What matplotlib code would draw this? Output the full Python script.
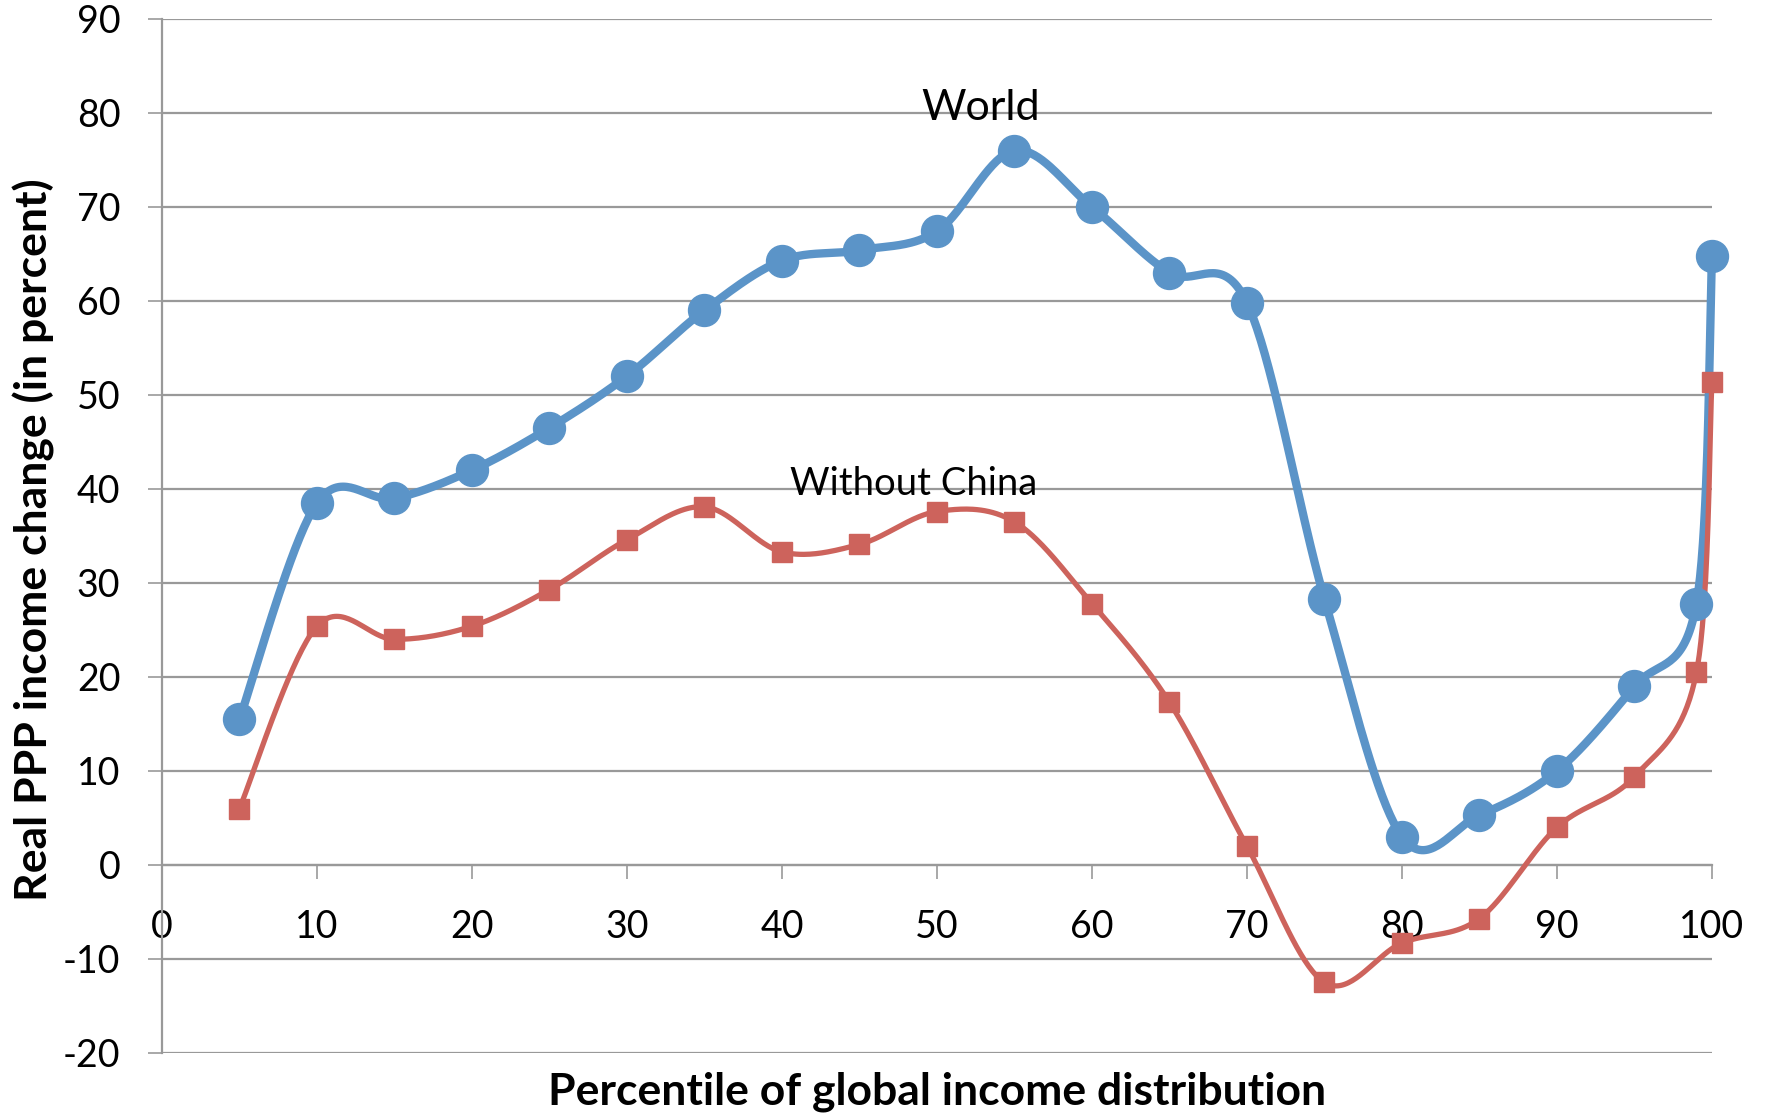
import matplotlib
matplotlib.use("Agg")
import matplotlib.pyplot as plt
from matplotlib.ticker import FuncFormatter
import numpy as np

plt.rcParams["font.family"] = ["Lato", "DejaVu Sans"]

percentiles = [5, 10, 15, 20, 25, 30, 35, 40, 45, 50, 55, 60, 65, 70, 75, 80, 85, 90, 95, 99, 100]
world = [15.5, 38.5, 39.0, 42.0, 46.5, 52.0, 59.0, 64.3, 65.4, 67.4, 76.0, 70.0, 63.0, 59.8,
         28.3, 3.0, 5.3, 10.0, 19.0, 27.8, 64.8]
without_china = [6.0, 25.4, 24.0, 25.4, 29.3, 34.6, 38.1, 33.3, 34.1, 37.6, 36.5, 27.8, 17.3,
                 2.0, -12.5, -8.3, -5.7, 4.0, 9.4, 20.5, 51.4]

BLUE = "#5b94c8"
RED = "#cd635c"
GRID = "#999999"


def smooth(xs, ys, n=40):
    # Excel-style smoothed line: bezier segments with catmull-rom control points
    p = np.column_stack([xs, ys]).astype(float)
    p = np.vstack([p[0], p, p[-1]])
    out = []
    t = np.linspace(0, 1, n)[:, None]
    for i in range(1, len(p) - 2):
        p0, p1, p2, p3 = p[i - 1], p[i], p[i + 1], p[i + 2]
        c1 = p1 + (p2 - p0) / 6
        c2 = p2 - (p3 - p1) / 6
        seg = ((1 - t) ** 3) * p1 + 3 * ((1 - t) ** 2) * t * c1 + 3 * (1 - t) * t ** 2 * c2 + t ** 3 * p2
        out.append(seg)
    out = np.vstack(out)
    return out[:, 0], out[:, 1]


fig = plt.figure(figsize=(17.66, 11.16), dpi=100)
ax = fig.add_axes([0.0917, 0.0565, 0.8777, 0.9265])

ax.set_xlim(0, 100)
ax.set_ylim(-20, 90)
ax.set_yticks(range(-20, 91, 10))
ax.set_xticks(range(0, 101, 10))
ax.yaxis.set_major_formatter(FuncFormatter(lambda v, _: f"{v:.0f}"))
ax.yaxis.grid(True, color=GRID, lw=1.6)
ax.set_axisbelow(True)

for s in ("top", "right"):
    ax.spines[s].set_visible(False)
ax.spines["bottom"].set_position(("data", 0))
for s in ("left", "bottom"):
    ax.spines[s].set_color(GRID)
    ax.spines[s].set_linewidth(1.6)
ax.tick_params(axis="both", direction="out", length=10, width=1.2, color=GRID,
               labelsize=27, pad=20)
ax.tick_params(axis="x", pad=22)

sx, sy = smooth(percentiles, world)
ax.plot(sx, sy, color=BLUE, lw=6, solid_capstyle="round", zorder=3, clip_on=False)
ax.plot(percentiles, world, "o", color=BLUE, ms=23, zorder=4, clip_on=False)

sx, sy = smooth(percentiles, without_china)
ax.plot(sx, sy, color=RED, lw=3.8, solid_capstyle="round", zorder=3, clip_on=False)
ax.plot(percentiles, without_china, "s", color=RED, ms=15, zorder=4, clip_on=False)

ax.text(52.8, 79.3, "World", fontsize=31, ha="center", va="baseline")
ax.text(48.5, 39.4, "Without China", fontsize=27.5, ha="center", va="baseline")

fig.text(0.019, 0.0565 + 0.9265 * 0.5 - 0.003, "Real PPP income change (in percent)",
         fontsize=32, fontweight="bold", rotation=90, ha="center", va="center")
fig.text(0.5 * (0.0917 + 0.9694), 0.022, "Percentile of global income distribution",
         fontsize=32, fontweight="bold", ha="center", va="center")

fig.savefig("out.png", dpi=100)
